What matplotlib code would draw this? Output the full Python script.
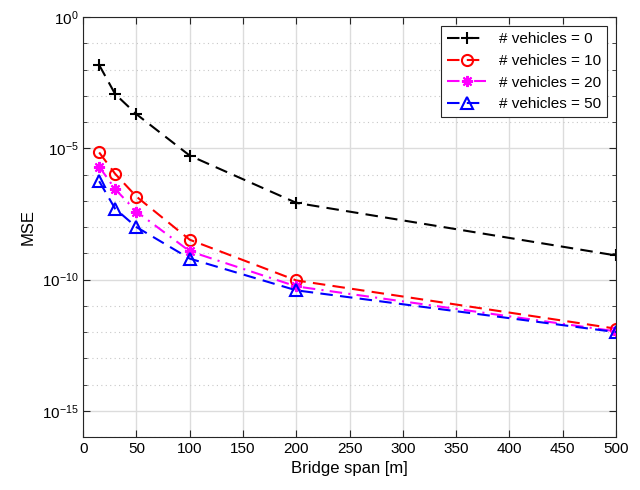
import numpy as np
import matplotlib.pyplot as plt
from matplotlib.ticker import NullFormatter, FixedLocator

plt.rcParams['font.family'] = ['Liberation Sans', 'DejaVu Sans']

# Дані
span = [15, 30, 50, 100, 200, 500]
mse_0 = [1.5e-2, 1.17e-3, 2.0e-4, 5.3e-6, 8.4e-8, 8.3e-10]
mse_10 = [7.0e-6, 1.07e-6, 1.45e-7, 3.3e-9, 9.3e-11, 1.35e-12]
mse_20 = [2.0e-6, 2.8e-7, 3.9e-8, 1.2e-9, 5.5e-11, 1.07e-12]
mse_50 = [5.6e-7, 5.0e-8, 1.0e-8, 6.3e-10, 3.9e-11, 1.0e-12]
labels = ['# vehicles = 0', '# vehicles = 10', '# vehicles = 20', '# vehicles = 50']

fig = plt.figure(figsize=(6.4, 4.9), dpi=100)
ax = fig.add_axes([0.130, 0.108, 0.8325, 0.857])

dash = (0, (6, 3.5))
dashdot = (0, (6, 3, 1, 3))
ax.semilogy(span, mse_0, color='k', ls=dash, marker='+', ms=9, mew=1.5, lw=1.5, label=labels[0])
ax.semilogy(span, mse_10, color='r', ls=dash, marker='o', ms=8, mfc='none', mew=1.5, lw=1.5, label=labels[1])
ax.semilogy(span, mse_20, color='magenta', ls=dashdot, marker=(8, 2, 0), ms=8, mew=1.5, lw=1.5, label=labels[2])
ax.semilogy(span, mse_50, color='b', ls=dash, marker='^', ms=8, mfc='none', mew=1.5, lw=1.5, label=labels[3])

ax.set_xlim(0, 500)
ax.set_ylim(1e-16, 1)
ax.set_xticks(np.arange(0, 501, 50))
ax.yaxis.set_major_locator(FixedLocator([1e-15, 1e-10, 1e-5, 1e0]))
ax.yaxis.set_minor_locator(FixedLocator([10.0 ** k for k in range(-16, 1)]))
ax.yaxis.set_minor_formatter(NullFormatter())

ax.grid(True, which='major', color='#dcdcdc', lw=1.0, ls='-')
ax.grid(True, which='minor', axis='y', color='#c8c8c8', lw=0.8, ls=(0, (1, 3)))
ax.set_axisbelow(True)

ax.tick_params(which='both', direction='in', top=True, right=True, labelsize=11, color='#262626')
ax.tick_params(which='major', length=5)
ax.tick_params(which='minor', length=3)
for s in ax.spines.values():
    s.set_color('#262626')

ax.set_xlabel('Bridge span [m]', fontsize=12)
ax.set_ylabel('MSE', fontsize=12)

leg = ax.legend(loc='upper right', fontsize=11, fancybox=False, edgecolor='#262626',
                framealpha=1, handlelength=2.6, borderaxespad=0.6)
leg.get_frame().set_linewidth(0.8)

fig.savefig('out.png', dpi=100)
